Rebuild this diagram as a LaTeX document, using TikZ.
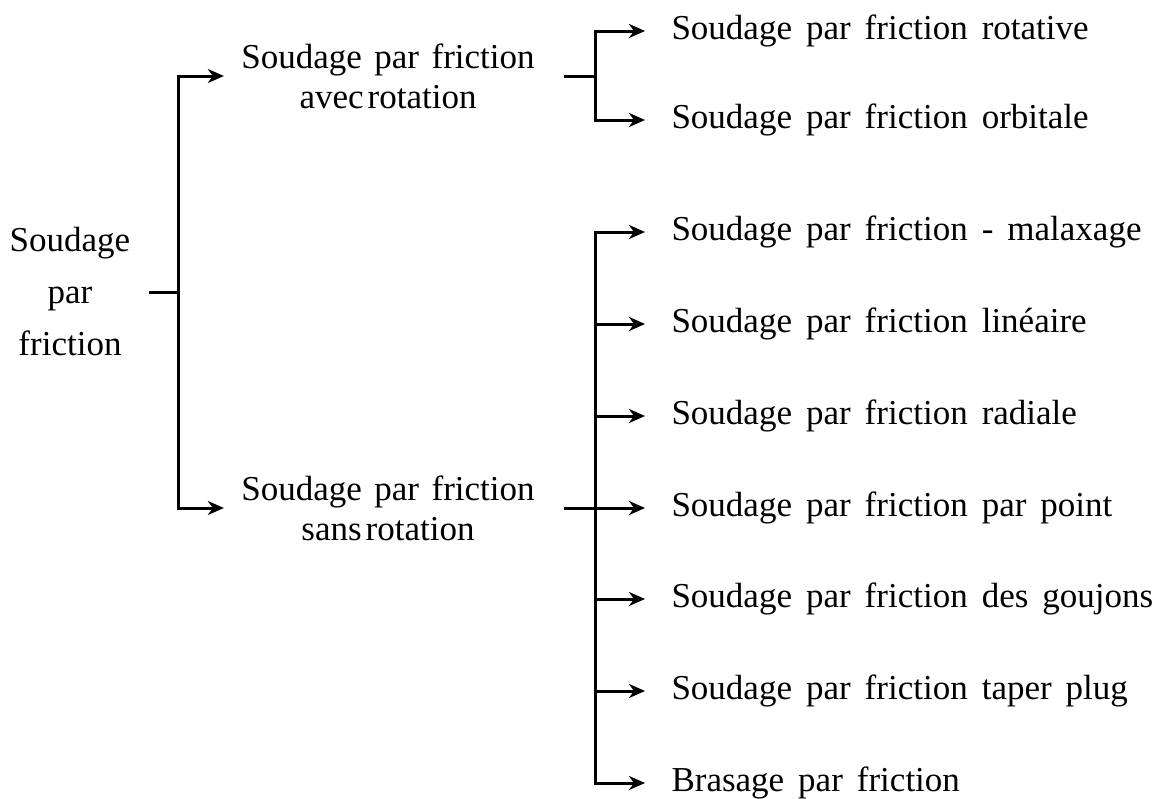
\documentclass[tikz,border=0pt]{standalone}
\usepackage{fontspec}
\setmainfont{Liberation Serif}
\usetikzlibrary{arrows.meta,positioning}
\tikzset{
  txt/.style={inner sep=0pt,font=\fontsize{35}{40}\selectfont},
  fl/.style={-{Stealth[length=16pt,width=14pt,inset=5pt]}},
}
\begin{document}
\begin{tikzpicture}[x=1pt,y=-1pt,line width=3pt]
\useasboundingbox (0,0) rectangle (1159,798);
\node[txt,align=center,font=\fontsize{35}{52}\selectfont] (R) at (70,292) {Soudage\\par\\friction};
\node[txt,align=center] (A) at (388,76) {\spaceskip=12.5pt\relax Soudage par friction\\avec\hspace{4pt}rotation};
\node[txt,align=center] (B) at (388,508) {\spaceskip=12.5pt\relax Soudage par friction\\sans\hspace{4pt}rotation};
\coordinate (J) at (178,292);
\coordinate (JA) at (595,76);
\coordinate (JB) at (595,508);
\foreach \n/\y/\t in {1/31/{Soudage par friction rotative},2/120/{Soudage par friction orbitale},
  3/232/{Soudage par friction - malaxage},4/324/{Soudage par friction linéaire},
  5/416/{Soudage par friction radiale},6/508/{Soudage par friction par point},
  7/599/{Soudage par friction des goujons},8/691/{Soudage par friction taper plug},
  9/783/{Brasage par friction}}
  {\node[txt,anchor=west] (r\n) at (670,\y) {\spaceskip=14pt\relax\t};}
% first level
\draw[shorten <=17pt] (R.east) -- (J);
\draw[fl,shorten >=16pt] (J) |- (A.west);
\draw[fl,shorten >=16pt] (J) |- (B.west);
% second level
\draw[shorten <=28pt] (A.east) -- (JA);
\draw[shorten <=28pt] (B.east) -- (JB);
\foreach \n in {1,2}{\draw[fl,shorten >=25pt] (JA) |- (r\n.west);}
\foreach \n in {3,...,9}{\draw[fl,shorten >=25pt] (JB) |- (r\n.west);}
\end{tikzpicture}
\end{document}
